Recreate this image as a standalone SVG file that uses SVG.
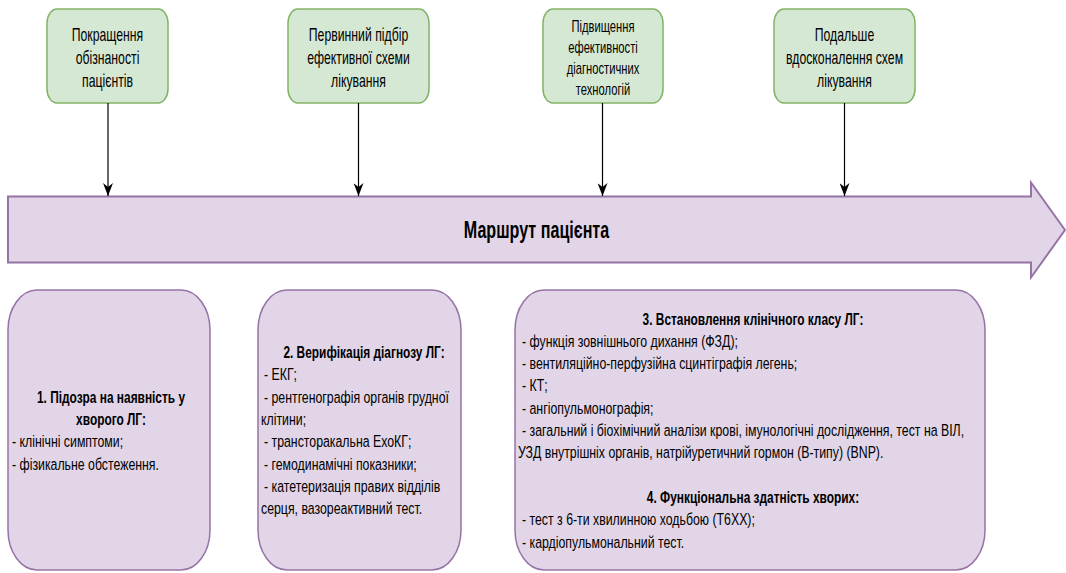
<svg xmlns="http://www.w3.org/2000/svg" width="1066" height="573" viewBox="0 0 1066 573">
<defs>
<style>
.top{fill:#d5e8d4;stroke:#82b366;stroke-width:1.5}
.low{fill:#e1d5e7;stroke:#9673a6;stroke-width:1.5}
.big{fill:#e1d5e7;stroke:#9673a6;stroke-width:2}
.conn{stroke:#000;stroke-width:1.2;fill:none}
text{font-family:"Liberation Sans",Arial,sans-serif;fill:#000}
.tt{font-size:17.5px;text-anchor:middle}
.ts{font-size:16px;text-anchor:middle}
.b{font-size:17px}
.bc{font-size:17px;font-weight:bold;text-anchor:middle}
.main{font-size:23px;font-weight:bold;text-anchor:middle}
</style>
<marker id="ah" viewBox="0 0 13 10" refX="13" refY="5" markerWidth="13" markerHeight="10" markerUnits="userSpaceOnUse" orient="auto">
<path d="M0,0 L13,5 L0,10 L4,5 Z" fill="#000"/>
</marker>
</defs>

<g id="route">
<path class="big" d="M8,196.5 H1031 V182.5 L1065,230 L1031,277.5 V262.5 H8 Z"/>
<text class="main" transform="matrix(0.7 0 0 1 536.5 238)">Маршрут пацієнта</text>
</g>

<g id="g1">
<rect class="top" x="47" y="9" width="121" height="94" rx="10" ry="14"/>
<text class="tt" transform="matrix(0.7 0 0 1 107.5 41)">Покращення</text>
<text class="tt" transform="matrix(0.7 0 0 1 107.5 64)">обізнаності</text>
<text class="tt" transform="matrix(0.7 0 0 1 107.5 87)">пацієнтів</text>
</g>
<g id="g2">
<rect class="top" x="288" y="9" width="141" height="94" rx="10" ry="14"/>
<text class="tt" transform="matrix(0.7 0 0 1 358.5 41)">Первинний підбір</text>
<text class="tt" transform="matrix(0.7 0 0 1 358.5 64)">ефективної схеми</text>
<text class="tt" transform="matrix(0.7 0 0 1 358.5 87)">лікування</text>
</g>
<g id="g3">
<rect class="top" x="543" y="9" width="120" height="94" rx="10" ry="14"/>
<text class="ts" transform="matrix(0.7 0 0 1 603 31.5)">Підвищення</text>
<text class="ts" transform="matrix(0.7 0 0 1 603 52.5)">ефективності</text>
<text class="ts" transform="matrix(0.7 0 0 1 603 73.5)">діагностичних</text>
<text class="ts" transform="matrix(0.7 0 0 1 603 95)">технологій</text>
</g>
<g id="g4">
<rect class="top" x="774" y="9" width="141" height="94" rx="10" ry="14"/>
<text class="tt" transform="matrix(0.7 0 0 1 844.5 41)">Подальше</text>
<text class="tt" transform="matrix(0.7 0 0 1 844.5 64)">вдосконалення схем</text>
<text class="tt" transform="matrix(0.7 0 0 1 844.5 87)">лікування</text>
</g>

<g id="connectors">
<line class="conn" x1="108" y1="103" x2="108" y2="196" marker-end="url(#ah)"/>
<line class="conn" x1="358.5" y1="103" x2="358.5" y2="196" marker-end="url(#ah)"/>
<line class="conn" x1="602.5" y1="103" x2="602.5" y2="196" marker-end="url(#ah)"/>
<line class="conn" x1="844.5" y1="103" x2="844.5" y2="196" marker-end="url(#ah)"/>
</g>

<g id="s1">
<rect class="low" x="8" y="290" width="202" height="280" rx="29" ry="40"/>
<text class="bc" transform="matrix(0.7 0 0 1 111 402.5)">1. Підозра на наявність у</text>
<text class="bc" transform="matrix(0.7 0 0 1 111 424.8)">хворого ЛГ:</text>
<text class="b" transform="matrix(0.725 0 0 1 12 447.2)">- клінічні симптоми;</text>
<text class="b" transform="matrix(0.725 0 0 1 12 469.5)">- фізикальне обстеження.</text>
</g>

<g id="s2">
<rect class="low" x="258" y="290" width="203" height="280" rx="29" ry="40"/>
<text class="bc" transform="matrix(0.7 0 0 1 364 358)">2. Верифікація діагнозу ЛГ:</text>
<text class="b" transform="matrix(0.725 0 0 1 264 380.3)">- ЕКГ;</text>
<text class="b" transform="matrix(0.725 0 0 1 264 402.6)">- рентгенографія органів грудної</text>
<text class="b" transform="matrix(0.725 0 0 1 261 424.9)">клітини;</text>
<text class="b" transform="matrix(0.725 0 0 1 264 447.2)">- трансторакальна ЕхоКГ;</text>
<text class="b" transform="matrix(0.725 0 0 1 264 469.5)">- гемодинамічні показники;</text>
<text class="b" transform="matrix(0.725 0 0 1 264 491.8)">- катетеризація правих відділів</text>
<text class="b" transform="matrix(0.725 0 0 1 261 514.1)">серця, вазореактивний тест.</text>
</g>

<g id="s3">
<rect class="low" x="515" y="290" width="470" height="280" rx="29" ry="40"/>
<text class="bc" transform="matrix(0.7 0 0 1 753 324.5)">3. Встановлення клінічного класу ЛГ:</text>
<text class="b" transform="matrix(0.725 0 0 1 522 346.8)">- функція зовнішнього дихання (ФЗД);</text>
<text class="b" transform="matrix(0.725 0 0 1 522 369.1)">- вентиляційно-перфузійна сцинтіграфія легень;</text>
<text class="b" transform="matrix(0.725 0 0 1 522 391.4)">- КТ;</text>
<text class="b" transform="matrix(0.725 0 0 1 522 413.7)">- ангіопульмонографія;</text>
<text class="b" transform="matrix(0.725 0 0 1 522 436)">- загальний і біохімічний аналізи крові, імунологічні дослідження, тест на ВІЛ,</text>
<text class="b" transform="matrix(0.725 0 0 1 518 458.3)">УЗД внутрішніх органів, натрійуретичний гормон (В-типу) (BNP).</text>
<text class="bc" transform="matrix(0.7 0 0 1 753 502.9)">4. Функціональна здатність хворих:</text>
<text class="b" transform="matrix(0.725 0 0 1 522 525.2)">- тест з 6-ти хвилинною ходьбою (Т6ХХ);</text>
<text class="b" transform="matrix(0.725 0 0 1 522 547.5)">- кардіопульмональний тест.</text>
</g>
</svg>
